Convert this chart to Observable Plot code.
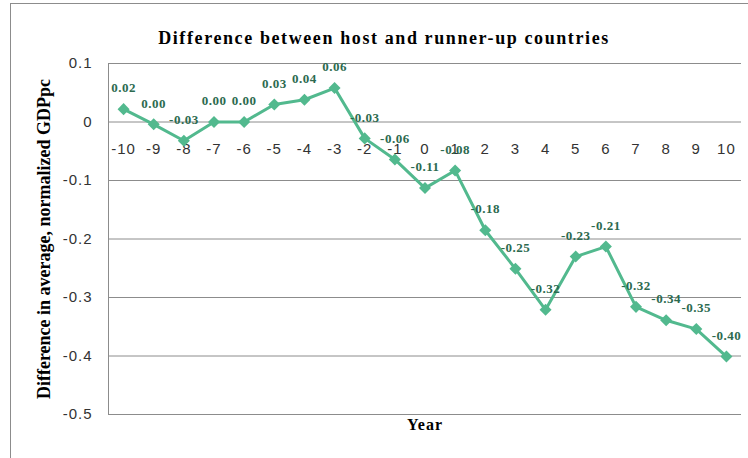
<!DOCTYPE html>
<html>
<head>
<meta charset="utf-8">
<script src="https://cdn.jsdelivr.net/npm/d3@7"></script>
<script src="https://cdn.jsdelivr.net/npm/@observablehq/plot@0.6"></script>
<style>
  html, body { margin: 0; padding: 0; background: #fff; }
  #chart { position: relative; width: 748px; height: 458px; overflow: hidden; }
  #border { position: absolute; left: 10px; top: 3px; width: 760px; height: 480px;
            border-left: 1px solid #8c8c8c; border-top: 1px solid #8c8c8c; }
  #chart svg { position: absolute; left: 0; top: 0; }
</style>
</head>
<body>
<div id="chart"><div id="border"></div></div>
<script>
// Years relative to the hosting year
const years = [-10, -9, -8, -7, -6, -5, -4, -3, -2, -1, 0, 1, 2, 3, 4, 5, 6, 7, 8, 9, 10];
// Host minus runner-up, average normalized GDP per capita
const differences = [0.022, -0.004, -0.032, 0.000, 0.000, 0.030, 0.038, 0.058, -0.028, -0.064,
  -0.113, -0.083, -0.185, -0.251, -0.321, -0.230, -0.213, -0.316, -0.339, -0.354, -0.401];
// Value axis ticks
const yTicks = [0.1, 0, -0.1, -0.2, -0.3, -0.4, -0.5];

const title = "Difference between host and runner-up countries";
const yTitle = "Difference in average, normalized GDPpc";
const xTitle = "Year";

const data = years.map((year, i) => ({year, value: differences[i]}));

const lineColor = "#52b98e";
const labelColor = "#2c6a4f";
const gridColor = "#8c8c8c";
const serif = "'Liberation Serif', 'Times New Roman', serif";
const sans = "'Liberation Sans', Arial, sans-serif";

const fmt2 = v => {
  const s = v.toFixed(2);
  return s === "-0.00" ? "0.00" : s;
};
const fmtTick = v => String(Math.round(v * 10) / 10);

const chart = Plot.plot({
  width: 748,
  height: 458,
  marginLeft: 108,
  marginRight: 7,
  marginTop: 63,
  marginBottom: 44,
  style: {background: "transparent", fontFamily: sans},
  x: {domain: [-10.5, 10.5], axis: null},
  y: {domain: [-0.5, 0.1], axis: null},
  marks: [
    Plot.ruleY(yTicks, {stroke: gridColor, strokeWidth: 1}),
    Plot.ruleX([-10.5], {stroke: gridColor, strokeWidth: 1}),
    Plot.axisY({
      ticks: yTicks, tickSize: 0, tickPadding: 16, tickFormat: fmtTick,
      fontSize: 15, fontFamily: sans, fill: "#333", label: null
    }),
    Plot.text(years, {
      x: d => d, y: () => 0, text: d => String(d), dy: 27,
      fontSize: 15, fontFamily: sans, fill: "#333"
    }),
    Plot.line(data, {x: "year", y: "value", stroke: lineColor, strokeWidth: 3}),
    // diamond markers: squares turned by 45 degrees
    Plot.dot(data, {x: "year", y: "value", symbol: "square", rotate: 45, r: 4.8, fill: lineColor, stroke: "none"}),
    Plot.text(data, {
      x: "year", y: "value", text: d => fmt2(d.value), dy: -21,
      fontSize: 13, fontWeight: "bold", fontFamily: serif, fill: labelColor
    }),
    Plot.text([title], {
      frameAnchor: "top", dx: -41, dy: -32,
      fontSize: 18, fontWeight: "bold", fontFamily: serif, fill: "#000"
    }),
    Plot.text([yTitle], {
      frameAnchor: "left", textAnchor: "middle", dx: -64, rotate: -90,
      fontSize: 18, fontWeight: "bold", fontFamily: serif, fill: "#000"
    }),
    Plot.text([xTitle], {
      frameAnchor: "bottom", dy: 15,
      fontSize: 16, fontWeight: "bold", fontFamily: serif, fill: "#000"
    })
  ]
});

document.getElementById("chart").appendChild(chart);

// Widen the lettering a little: titles, point labels and axis numbers
const labelTexts = new Set(data.map(d => fmt2(d.value)));
d3.select(chart).selectAll("text").each(function () {
  const t = this.textContent;
  const bold = getComputedStyle(this).fontWeight >= 600;
  let spacing = null;
  if (t === title) spacing = "1.6px";
  else if (t === yTitle) spacing = null;
  else if (t === xTitle) spacing = "1px";
  else if (bold && labelTexts.has(t)) spacing = "0.5px";
  else if (!bold) spacing = "1px";
  if (spacing) this.style.letterSpacing = spacing;
});
</script>
</body>
</html>
